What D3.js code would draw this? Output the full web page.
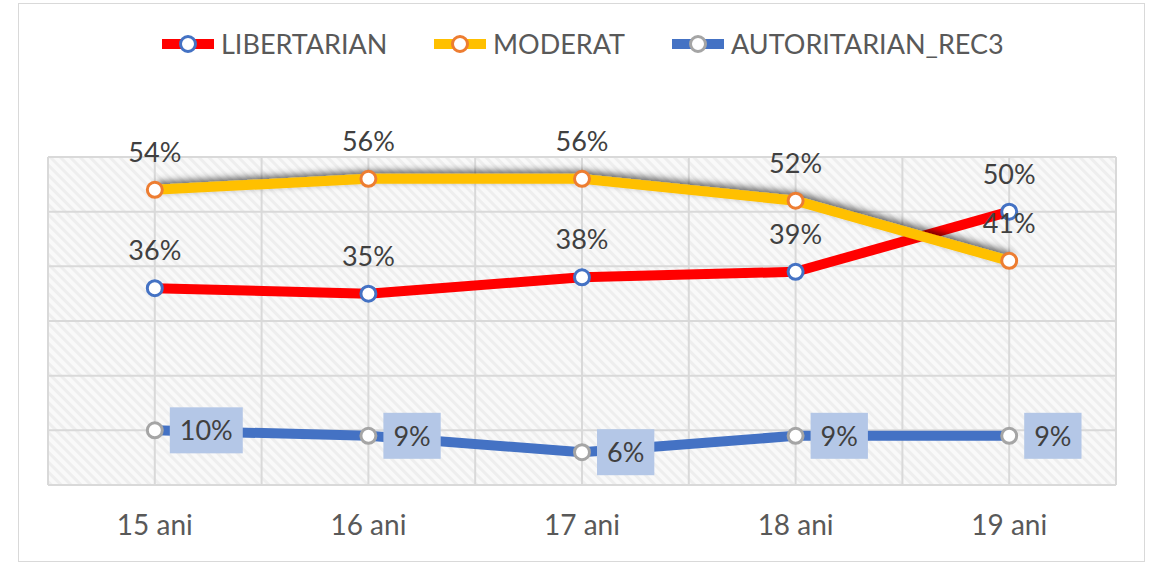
<!DOCTYPE html>
<html>
<head>
<meta charset="utf-8">
<script src="https://cdn.jsdelivr.net/npm/d3@7"></script>
<style>
  body { margin:0; background:#fff; }
  text { font-family: Lato, "Open Sans", sans-serif; }
</style>
</head>
<body>
<div id="chart"></div>
<script>
let categories = ["15 ani", "16 ani", "17 ani", "18 ani", "19 ani"];
let libertarian = [36, 35, 38, 39, 50];
let moderat = [54, 56, 56, 52, 41];
let autoritarian = [10, 9, 6, 9, 9];
let seriesNames = ["LIBERTARIAN", "MODERAT", "AUTORITARIAN_REC3"];
let yTicks = [0, 10, 20, 30, 40, 50, 60];

let width = 1152,
    height = 563;
let margin = {top:157, bottom:78, left:48, right:36};
let plotW = width - margin.left - margin.right,
    plotH = height - margin.top - margin.bottom;

let series = [
  {name: seriesNames[0], values: libertarian, line: "#FF0000", marker: "#4472C4", label: "above"},
  {name: seriesNames[1], values: moderat, line: "#FFC000", marker: "#ED7D31", label: "above", shadow: true},
  {name: seriesNames[2], values: autoritarian, line: "#4472C4", marker: "#A5A5A5", label: "box"}
];

let svg = d3.select("#chart").append("svg")
    .attr("width", width)
    .attr("height", height);

let defs = svg.append("defs");
let pat = defs.append("pattern")
    .attr("id", "hatch")
    .attr("width", 7).attr("height", 7)
    .attr("patternUnits", "userSpaceOnUse")
    .attr("patternTransform", "rotate(-45)");
pat.append("rect").attr("width", 7).attr("height", 7).attr("fill", "#F9F9F9");
pat.append("rect").attr("width", 3).attr("height", 7).attr("fill", "#EEEEEE");

let f = defs.append("filter").attr("id", "shadow")
    .attr("x", "-10%").attr("y", "-50%").attr("width", "120%").attr("height", "200%");
f.append("feDropShadow")
    .attr("dx", 2).attr("dy", -3)
    .attr("stdDeviation", 3.5)
    .attr("flood-color", "#000")
    .attr("flood-opacity", 0.6);

// outer border
svg.append("rect")
    .attr("x", 18.5).attr("y", 3.5)
    .attr("width", 1126).attr("height", 558)
    .attr("fill", "none")
    .attr("stroke", "#D9D9D9");

let xScale = d3.scalePoint()
    .domain(categories)
    .range([0, plotW])
    .padding(0.5);

let yScale = d3.scaleLinear()
    .domain([0, 60])
    .range([plotH, 0]);

let chart = svg.append("g")
    .attr("transform", "translate(" + margin.left + "," + margin.top + ")");

chart.append("rect")
    .attr("width", plotW).attr("height", plotH)
    .attr("fill", "url(#hatch)");

// gridlines
let step = xScale.step();
let vLines = [];
categories.forEach(function(c){ vLines.push(xScale(c) - step/2); vLines.push(xScale(c)); });
vLines.push(plotW);

chart.selectAll(".vgrid")
    .data(vLines)
    .enter().append("line")
    .attr("x1", d => d).attr("x2", d => d)
    .attr("y1", 0).attr("y2", plotH)
    .attr("stroke", "#D9D9D9").attr("stroke-width", 2);

chart.selectAll(".hgrid")
    .data(yTicks)
    .enter().append("line")
    .attr("x1", 0).attr("x2", plotW)
    .attr("y1", d => yScale(d)).attr("y2", d => yScale(d))
    .attr("stroke", "#D9D9D9").attr("stroke-width", 2);

// x axis labels
chart.selectAll(".xlab")
    .data(categories)
    .enter().append("text")
    .attr("x", d => xScale(d))
    .attr("y", plotH + 50)
    .attr("text-anchor", "middle")
    .attr("font-size", 28)
    .attr("fill", "#595959")
    .text(d => d);

let line = d3.line()
    .x((d, i) => xScale(categories[i]))
    .y(d => yScale(d));

series.forEach(function(s){
    let g = chart.append("g");
    g.append("path")
        .datum(s.values)
        .attr("d", line)
        .attr("fill", "none")
        .attr("stroke", s.line)
        .attr("stroke-width", 10)
        .attr("stroke-linejoin", "round")
        .attr("filter", s.shadow ? "url(#shadow)" : null);
    g.selectAll("circle")
        .data(s.values)
        .enter().append("circle")
        .attr("cx", (d, i) => xScale(categories[i]))
        .attr("cy", d => yScale(d))
        .attr("r", 7.5)
        .attr("fill", "#fff")
        .attr("stroke", s.marker)
        .attr("stroke-width", 3);
});

// data labels
series.forEach(function(s){
    if (s.label == "above") {
        chart.selectAll(null)
            .data(s.values)
            .enter().append("text")
            .attr("x", (d, i) => xScale(categories[i]))
            .attr("y", d => yScale(d) - 28)
            .attr("text-anchor", "middle")
            .attr("font-size", 27)
            .attr("fill", "#404040")
            .text(d => d + "%");
    } else {
        let lg = chart.selectAll(null)
            .data(s.values)
            .enter().append("g")
            .attr("transform", (d, i) => "translate(" + (xScale(categories[i]) + 15) + "," + yScale(d) + ")");
        lg.append("text")
            .attr("x", 10)
            .attr("y", 10)
            .attr("font-size", 27)
            .attr("fill", "#404040")
            .text(d => d + "%");
        lg.insert("rect", "text")
            .attr("x", 0).attr("y", -23)
            .attr("height", 46)
            .attr("width", function(){ return this.parentNode.querySelector("text").getBBox().width + 20; })
            .attr("fill", "#B4C7E7");
    }
});

// legend
let legendX = [162, 434, 672];
let legend = svg.selectAll(".legend")
    .data(series)
    .enter().append("g")
    .attr("transform", (d, i) => "translate(" + legendX[i] + ",44)");
legend.append("line")
    .attr("x1", 0).attr("x2", 52)
    .attr("stroke", d => d.line)
    .attr("stroke-width", 10);
legend.append("circle")
    .attr("cx", 26).attr("r", 7.5)
    .attr("fill", "#fff")
    .attr("stroke", d => d.marker)
    .attr("stroke-width", 3);
legend.append("text")
    .attr("x", 59).attr("y", 10)
    .attr("font-size", 27)
    .attr("fill", "#595959")
    .text(d => d.name);
</script>
</body>
</html>
